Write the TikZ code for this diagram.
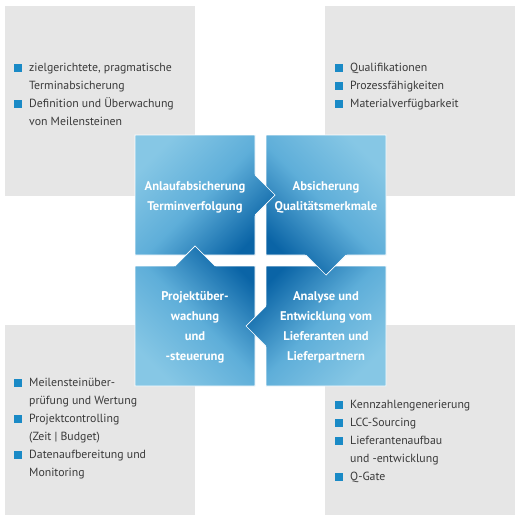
\documentclass[tikz,border=0pt]{standalone}
\usepackage{fontspec}
\setmainfont{PT Sans}
\definecolor{grayfill}{HTML}{E6E6E6}
\definecolor{txtgray}{HTML}{3A3A3A}
\definecolor{bulblue}{HTML}{1A8AC6}
\definecolor{bluelight}{HTML}{86C7E5}
\definecolor{bluemid}{HTML}{5EAED9}
\definecolor{bluedark}{HTML}{0A64A6}
\newcommand{\bulsq}{\makebox[15pt][l]{\textcolor{bulblue}{\rule{7.5pt}{7.5pt}}}}
\newcommand{\indsp}{\hspace*{15pt}}
\tikzset{
  graybox/.style={fill=grayfill, draw=none, minimum width=190pt, minimum height=190pt, inner sep=0pt},
  listtext/.style={anchor=north west, inner sep=0pt, align=left, text=txtgray, font=\fontsize{11.8}{18}\selectfont},
  boxtext/.style={inner sep=0pt, align=center, text=white, font=\bfseries\fontsize{12.6}{20}\selectfont},
  shTL/.style={top color=bluelight, bottom color=bluedark, middle color=bluemid, shading angle=45},
  shTR/.style={top color=bluelight, bottom color=bluedark, middle color=bluemid, shading angle=-45},
  shBL/.style={top color=bluedark, bottom color=bluelight, middle color=bluemid, shading angle=-45},
  shBR/.style={top color=bluedark, bottom color=bluelight, middle color=bluemid, shading angle=45},
  edge/.style={draw=white, line width=0.7pt}
}
\def\pTL{(135,135) -- (255,135) -- (255,175) -- (275,195) -- (255,215) -- (255,255) -- (135,255) -- cycle}
\def\pTR{(266,135) -- (386,135) -- (386,255) -- (346,255) -- (326,275) -- (306,255) -- (266,255) -- cycle}
\def\pBR{(266,266) -- (386,266) -- (386,386) -- (266,386) -- (266,346) -- (246,326) -- (266,306) -- cycle}
\def\pBL{(135,266) -- (175,266) -- (195,246) -- (215,266) -- (255,266) -- (255,386) -- (135,386) -- cycle}
\begin{document}
\begin{tikzpicture}[x=1pt,y=-1pt]
\useasboundingbox (0,0) rectangle (520,520);
\fill[white] (0,0) rectangle (520,520);
% gray panels
\node[graybox] (gTL) at (100,101) {};
\node[graybox] (gTR) at (420,101) {};
\node[graybox] (gBL) at (100,420) {};
\node[graybox] (gBR) at (420,420) {};
% blue boxes
\shadedraw[shTL, edge] \pTL;
\shadedraw[shTR, edge] \pTR;
\shadedraw[shBR, edge] \pBR;
\shadedraw[shBL, edge] \pBL;
% arrow tips on top
\begin{scope}
  \clip (254,174) -- (275,195) -- (254,216) -- cycle;
  \shade[shTL] \pTL;
\end{scope}
\draw[edge] (255,175) -- (275,195) -- (255,215);
\begin{scope}
  \clip (305,254) -- (326,275) -- (347,254) -- cycle;
  \shade[shTR] \pTR;
\end{scope}
\draw[edge] (306,255) -- (326,275) -- (346,255);
\begin{scope}
  \clip (267,305) -- (246,326) -- (267,347) -- cycle;
  \shade[shBR] \pBR;
\end{scope}
\draw[edge] (266,306) -- (246,326) -- (266,346);
\begin{scope}
  \clip (174,267) -- (195,246) -- (216,267) -- cycle;
  \shade[shBL] \pBL;
\end{scope}
\draw[edge] (175,266) -- (195,246) -- (215,266);
% box texts
\node[boxtext] (tTL) at (195,197) {Anlaufabsicherung\\Terminverfolgung};
\node[boxtext] (tTR) at (326,197) {Absicherung\\Qualitätsmerkmale};
\node[boxtext] (tBL) at (195,327) {Projektüber-\\wachung\\und\\-steuerung};
\node[boxtext] (tBR) at (326,327) {Analyse und\\Entwicklung vom\\Lieferanten und\\Lieferpartnern};
% lists
\node[listtext] (lTL) at (14,63) {\bulsq zielgerichtete, pragmatische\\\indsp Terminabsicherung\\\bulsq Definition und Überwachung\\\indsp von Meilensteinen};
\node[listtext] (lTR) at (335,63) {\bulsq Qualifikationen\\\bulsq Prozessfähigkeiten\\\bulsq Materialverfügbarkeit};
\node[listtext] (lBL) at (14,378) {\bulsq Meilensteinüber-\\\indsp prüfung und Wertung\\\bulsq Projektcontrolling\\\indsp (Zeit | Budget)\\\bulsq Datenaufbereitung und\\\indsp Monitoring};
\node[listtext] (lBR) at (335,400) {\bulsq Kennzahlengenerierung\\\bulsq LCC-Sourcing\\\bulsq Lieferantenaufbau\\\indsp und -entwicklung\\\bulsq Q-Gate};
\end{tikzpicture}
\end{document}
